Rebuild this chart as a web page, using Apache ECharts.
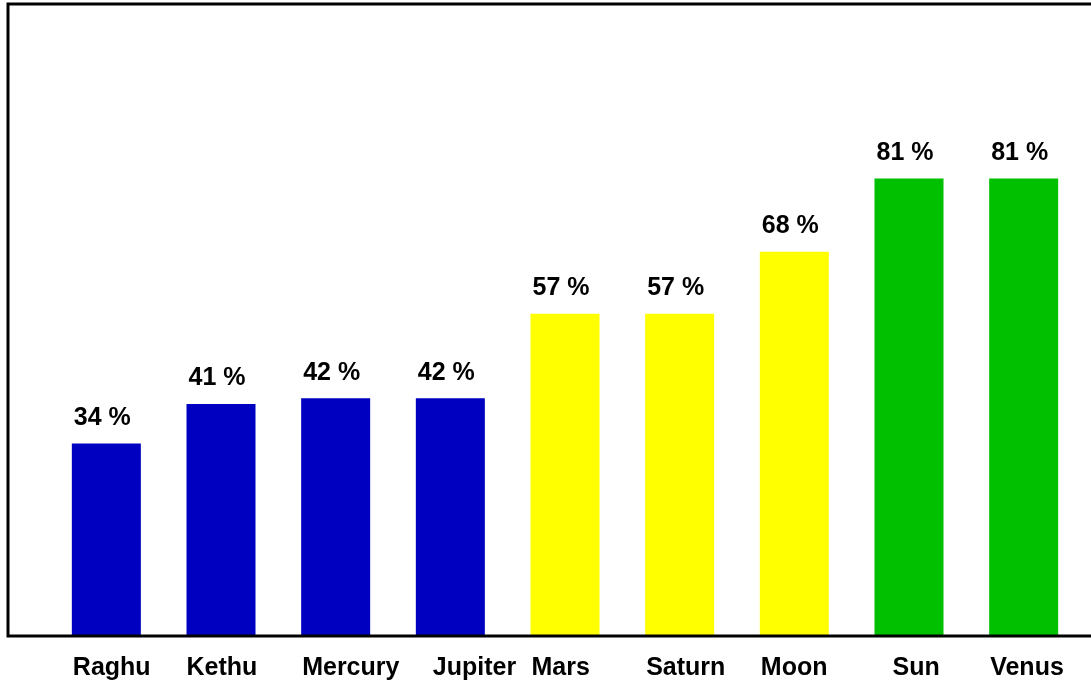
<!DOCTYPE html>
<html>
<head>
<meta charset="utf-8">
<script src="https://cdn.jsdelivr.net/npm/echarts@6/dist/echarts.min.js"></script>
<style>html,body{margin:0;padding:0;background:#fff}#c{width:1091px;height:683px}</style>
</head>
<body>
<div id="c"></div>
<script>
const categories = ['Raghu', 'Kethu', 'Mercury', 'Jupiter', 'Mars', 'Saturn', 'Moon', 'Sun', 'Venus'];
const values = [34, 41, 42, 42, 57, 57, 68, 81, 81];
const barColors = ['#0000C0', '#0000C0', '#0000C0', '#0000C0', '#FFFF00', '#FFFF00', '#FFFF00', '#00C000', '#00C000'];
const labelShift = [2, 0, 2, 34, 2, 2, 2, 36, 2];

const chart = echarts.init(document.getElementById('c'));
chart.setOption({
  animation: false,
  backgroundColor: '#fff',
  grid: { left: 49, right: 10, top: 71.5, bottom: 48 },
  xAxis: {
    type: 'category',
    data: categories.map((c, i) => ({
      value: c,
      textStyle: { rich: { a: { width: 69, align: 'left', padding: [0, 0, 0, labelShift[i]] } } }
    })),
    axisLine: { show: false },
    axisTick: { show: false },
    axisLabel: {
      interval: 0,
      margin: 21,
      fontFamily: 'Liberation Sans, Arial, sans-serif',
      fontWeight: 'bold',
      fontSize: 25,
      color: '#000',
      formatter: v => '{a|' + v + '}',
      rich: { a: { width: 69, align: 'left', fontFamily: 'Liberation Sans, Arial, sans-serif', fontWeight: 'bold', fontSize: 25, color: '#000' } }
    }
  },
  yAxis: {
    type: 'value', min: 0, max: 100, show: false, splitLine: { show: false }
  },
  series: [{
    type: 'bar',
    barWidth: 69,
    data: values.map((v, i) => ({ value: v, itemStyle: { color: barColors[i] } })),
    label: {
      show: true,
      position: 'top',
      distance: 13,
      offset: [-4, 0],
      formatter: p => p.value + ' %',
      fontFamily: 'Liberation Sans, Arial, sans-serif',
      fontWeight: 'bold',
      fontSize: 25,
      color: '#000'
    }
  }],
  graphic: [{
    type: 'rect',
    shape: { x: 8, y: 4, width: 1100, height: 632 },
    style: { fill: 'none', stroke: '#000', lineWidth: 3 },
    z: 100
  }]
});
</script>
</body>
</html>
